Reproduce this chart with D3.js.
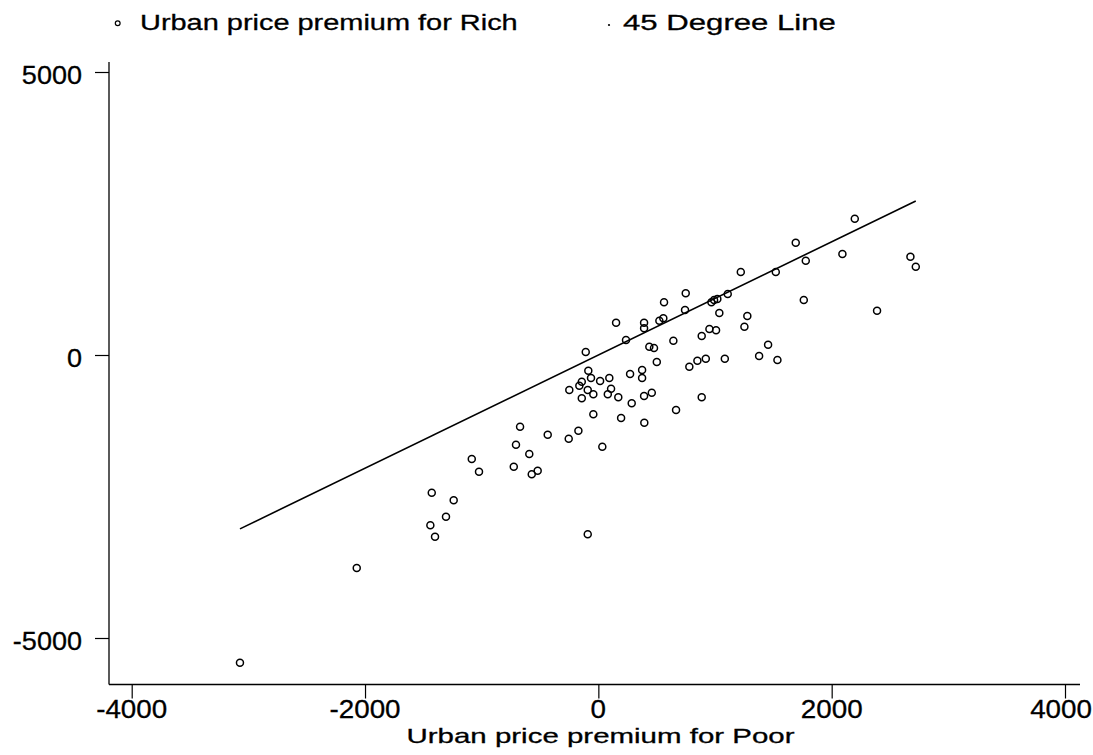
<!DOCTYPE html>
<html>
<head>
<meta charset="utf-8">
<script src="https://cdn.jsdelivr.net/npm/d3@7"></script>
<style>
  html, body { margin: 0; padding: 0; background: #fff; }
  svg { display: block; }
  text { font-family: "Liberation Sans", Arial, Helvetica, sans-serif; fill: #000; stroke: #000; stroke-width: 0.3px; }
</style>
</head>
<body>
<svg id="chart" width="1093" height="755"></svg>
<script>
// ---- data ----
const xTicks = [-4000, -2000, 0, 2000, 4000];
const yTicks = [-5000, 0, 5000];
const xTitle = "Urban price premium for Poor";
const legendLabels = ["Urban price premium for Rich", "45 Degree Line"];

// Urban price premium for Poor (x) and for Rich (y)
const premiumPoor = [
  749, 563, 152, 392, 392, 523, 557, 743, 237, 643,
  -108, 437, 477, 501, 849, 780, -86, -63, 15, 94,
  272, 375, 375, -142, -163, -249, -91, -43, 109, 81,
  -142, 171, 286, 392, 458, 666, -43, 195, 394, -671,
  -434, -171, -254, -706, 34, -592, -1085, -1023, -725, -571,
  -520, -1428, -1240, -1306, -1440, -1400, -91, -2071, -3072, 2198,
  1692, 2092, 1778, 2675, 2721, 1221, 1521, 969, 992, 1020,
  1109, 1037, 1277, 1761, 2389, 1252, 952, 1009, 886, 1455,
  921, 1084, 1378, 1535, 886
];
const premiumRich = [
  1090, 931, 571, 571, 472, 606, 648, 795, 265, 253,
  53, 147, 124, -124, -101, -207, -277, -406, -459, -406,
  -336, -265, -406, -472, -542, -618, -618, -694, -595, -694,
  -765, -747, -853, -724, -666, -972, -1048, -1113, -1196, -1267,
  -1408, -1337, -1479, -1585, -1620, -1749, -1837, -2062, -1973, -2108,
  -2044, -2433, -2567, -2857, -3009, -3210, -3168, -3763, -5436, 2408,
  1984, 1784, 1666, 1737, 1560, 1466, 1466, 931, 972, 989,
  1078, 742, 689, 972, 783, 500, 459, 436, 336, 182,
  -65, -65, -18, -88, -747
];
const points = premiumPoor.map((p, i) => ({ poor: p, rich: premiumRich[i] }));

// ---- layout ----
const W = 1093;
const svg = d3.select("#chart");
const x = d3.scaleLinear().domain([-4000, 4000]).range([131.7, 1065]);
const y = d3.scaleLinear().domain([-5000, 5000]).range([638, 72]);
const axisX0 = 109, axisX1 = 1080, axisY0 = 62, axisY1 = 684.5;

// stretched text helper (reference text is horizontally wide)
function addText(str, px, py, size, anchor, sx, targetWidth) {
  const t = svg.append("text")
    .attr("font-size", size)
    .attr("text-anchor", anchor)
    .text(str);
  const w = t.node().getComputedTextLength();
  let s = sx;
  if (targetWidth) s = targetWidth / w;
  // keep text inside the picture
  if (anchor === "middle" && px + (w * s) / 2 > W - 1) px = W - 1 - (w * s) / 2;
  t.attr("transform", `translate(${px},${py}) scale(${s},1)`);
  return t;
}

// axes lines
svg.append("line")
  .attr("x1", axisX0).attr("x2", axisX0)
  .attr("y1", axisY0).attr("y2", axisY1)
  .attr("stroke", "#000").attr("stroke-width", 1.3);
svg.append("line")
  .attr("x1", axisX0).attr("x2", axisX1)
  .attr("y1", axisY1).attr("y2", axisY1)
  .attr("stroke", "#000").attr("stroke-width", 1.3);

// x axis ticks
const gx = svg.append("g").attr("transform", `translate(0,${axisY1})`)
  .call(d3.axisBottom(x).tickValues(xTicks).tickSize(14).tickSizeOuter(0).tickFormat(""));
gx.select(".domain").remove();
gx.selectAll(".tick line").attr("stroke", "#000").attr("stroke-width", 1.2);

// y axis ticks
const gy = svg.append("g").attr("transform", `translate(${axisX0},0)`)
  .call(d3.axisLeft(y).tickValues(yTicks).tickSize(14).tickSizeOuter(0).tickFormat(""));
gy.select(".domain").remove();
gy.selectAll(".tick line").attr("stroke", "#000").attr("stroke-width", 1.2);

// tick labels
xTicks.forEach(v => addText(String(v), x(v), 717.5, 26, "middle", 1.07));
yTicks.forEach(v => addText(String(v), 82, y(v) + 11.8, 26, "end", 1.04));

// x title
addText(xTitle, 600.5, 742.5, 21, "middle", null, 388);

// 45 degree line over the data range
const ext = d3.extent(premiumPoor);
svg.append("line")
  .attr("x1", x(ext[0])).attr("y1", y(ext[0]))
  .attr("x2", x(ext[1])).attr("y2", y(ext[1]))
  .attr("stroke", "#000").attr("stroke-width", 1.6);

// points
svg.append("g").selectAll("circle").data(points).join("circle")
  .attr("cx", d => x(d.poor))
  .attr("cy", d => y(d.rich))
  .attr("r", 3.5)
  .attr("fill", "none")
  .attr("stroke", "#000")
  .attr("stroke-width", 1.5);

// legend
svg.append("circle").attr("cx", 117.7).attr("cy", 23.3).attr("r", 2.4)
  .attr("fill", "none").attr("stroke", "#000").attr("stroke-width", 1.2);
addText(legendLabels[0], 140, 29.5, 22, "start", null, 378);
svg.append("circle").attr("cx", 609).attr("cy", 25).attr("r", 1.1)
  .attr("fill", "#000");
addText(legendLabels[1], 623, 29.5, 22, "start", null, 213);
</script>
</body>
</html>
